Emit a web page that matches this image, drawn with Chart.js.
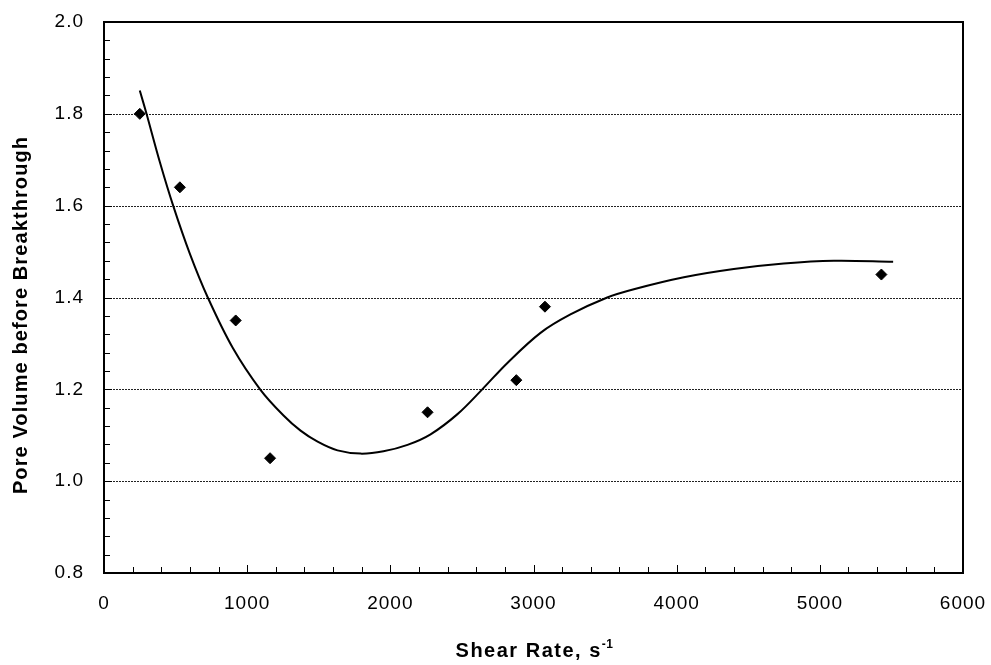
<!DOCTYPE html>
<html>
<head>
<meta charset="utf-8">
<script src="https://cdn.jsdelivr.net/npm/chart.js@4/dist/chart.umd.min.js"></script>
<style>
    html, body { margin: 0; padding: 0; background: #fff; }
    #wrap { width: 991px; height: 665px; }
</style>
</head>
<body>
<div id="wrap"><canvas id="chart" width="991" height="665"></canvas></div>
<script>
// measured points
var shearRate = [250, 530, 920, 1160, 2260, 2880, 3080, 5430];
var poreVolume = [1.80, 1.64, 1.35, 1.05, 1.15, 1.22, 1.38, 1.45];

// fitted curve
var fitX = [250, 297, 390, 483, 600, 725, 900, 1093, 1254, 1373, 1492, 1631, 1792, 1952, 2120, 2281, 2469, 2642, 2816, 3049, 3258, 3515, 3701, 4050, 4399, 4748, 5098, 5512];
var fitY = [1.851, 1.80, 1.695, 1.60, 1.495, 1.40, 1.29, 1.199, 1.143, 1.110, 1.086, 1.067, 1.060, 1.065, 1.079, 1.102, 1.146, 1.200, 1.257, 1.323, 1.363, 1.40, 1.418, 1.444, 1.462, 1.474, 1.480, 1.478];

var xTicks = [0, 1000, 2000, 3000, 4000, 5000, 6000];
var yTicks = [0.8, 1.0, 1.2, 1.4, 1.6, 1.8, 2.0];
var yGrid = [1.0, 1.2, 1.4, 1.6, 1.8];

var xTitle = "Shear Rate, s";
var xTitleSup = "-1";
var yTitle = "Pore Volume before Breakthrough";

var FONT = "'Liberation Sans', Arial, sans-serif";

function toXY(xs, ys) {
    var out = [];
    for (var i = 0; i < xs.length; i++) {
        out.push({x: xs[i], y: ys[i]});
    }
    return out;
}

// wider text, like the original rendering
var spacingPlugin = {
    id: 'spacing',
    beforeLayout: function(chart) { chart.ctx.letterSpacing = '1px'; },
    beforeDraw: function(chart) { chart.ctx.letterSpacing = '1px'; }
};

// dashed grid, inner ticks, box and axis titles
var decorPlugin = {
    id: 'decor',
    beforeDatasetsDraw: function(chart) {
        var ctx = chart.ctx;
        var a = chart.chartArea;
        var ys = chart.scales.y;
        ctx.save();
        ctx.strokeStyle = '#222';
        ctx.lineWidth = 1;
        ctx.setLineDash([2, 1]);
        yGrid.forEach(function(v) {
            var py = Math.round(ys.getPixelForValue(v)) + 0.5;
            ctx.beginPath();
            ctx.moveTo(a.left, py);
            ctx.lineTo(a.right, py);
            ctx.stroke();
        });
        ctx.restore();
    },
    afterDraw: function(chart) {
        var ctx = chart.ctx;
        var a = chart.chartArea;
        var xs = chart.scales.x;
        var ys = chart.scales.y;
        ctx.save();
        ctx.strokeStyle = '#000';
        ctx.lineWidth = 1;
        // minor ticks on x every 200, on y every 0.04
        for (var i = 0; i < xTicks.length - 1; i++) {
            for (var k = 0; k < 5; k++) {
                var v = xTicks[i] + (xTicks[i + 1] - xTicks[i]) * k / 5;
                var px = Math.round(xs.getPixelForValue(v)) + 0.5;
                var len = k === 0 ? 8 : 6;
                ctx.beginPath();
                ctx.moveTo(px, a.bottom);
                ctx.lineTo(px, a.bottom - len);
                ctx.stroke();
            }
        }
        for (var j = 0; j < yTicks.length - 1; j++) {
            for (var m = 0; m < 5; m++) {
                var w = yTicks[j] + (yTicks[j + 1] - yTicks[j]) * m / 5;
                var py = Math.round(ys.getPixelForValue(w)) + 0.5;
                var l2 = m === 0 ? 8 : 6;
                ctx.beginPath();
                ctx.moveTo(a.left, py);
                ctx.lineTo(a.left + l2, py);
                ctx.stroke();
            }
        }
        // plot box
        ctx.lineWidth = 2;
        ctx.strokeRect(a.left, a.top, a.right - a.left, a.bottom - a.top);

        // x title with superscript
        ctx.fillStyle = '#000';
        ctx.textBaseline = 'alphabetic';
        ctx.textAlign = 'left';
        ctx.letterSpacing = '1.5px';
        ctx.font = 'bold 20px ' + FONT;
        var w1 = ctx.measureText(xTitle).width;
        ctx.letterSpacing = '0.5px';
        ctx.font = 'bold 12px ' + FONT;
        var w2 = ctx.measureText(xTitleSup).width;
        var cx = (a.left + a.right) / 2 + 1;
        var sx = cx - (w1 + w2) / 2;
        ctx.letterSpacing = '1.5px';
        ctx.font = 'bold 20px ' + FONT;
        ctx.fillText(xTitle, sx, 657);
        ctx.letterSpacing = '0.5px';
        ctx.font = 'bold 12px ' + FONT;
        ctx.fillText(xTitleSup, sx + w1, 648);

        // y title
        ctx.translate(21, 315);
        ctx.rotate(-Math.PI / 2);
        ctx.letterSpacing = '1.1px';
        ctx.font = 'bold 20px ' + FONT;
        ctx.textAlign = 'center';
        ctx.textBaseline = 'middle';
        ctx.fillText(yTitle, 0, 0);
        ctx.restore();
    }
};

var chart = new Chart(document.getElementById('chart'), {
    type: 'scatter',
    data: {
        datasets: [
            {
                label: 'Measured',
                data: toXY(shearRate, poreVolume),
                pointStyle: 'rectRot',
                pointRadius: 5.5,
                pointBackgroundColor: '#000',
                pointBorderColor: '#000',
                pointBorderWidth: 1,
                showLine: false
            },
            {
                label: 'Fit',
                data: toXY(fitX, fitY),
                showLine: true,
                borderColor: '#000',
                borderWidth: 2,
                pointRadius: 0,
                tension: 0.35,
                fill: false
            }
        ]
    },
    options: {
        responsive: false,
        animation: false,
        devicePixelRatio: 1,
        layout: { padding: { top: 22, right: 28, left: 0, bottom: 0 } },
        plugins: {
            legend: { display: false },
            tooltip: { enabled: false }
        },
        scales: {
            x: {
                type: 'linear',
                min: 0,
                max: 6000,
                afterBuildTicks: function(scale) {
                    scale.ticks = xTicks.map(function(v) { return {value: v}; });
                },
                afterFit: function(scale) {
                    scale.height = 92;
                    scale.paddingLeft = 0;
                    scale.paddingRight = 0;
                },
                grid: { display: false, drawTicks: false },
                border: { display: false },
                ticks: {
                    padding: 19,
                    color: '#000',
                    maxRotation: 0,
                    font: { family: FONT, size: 19 },
                    callback: function(v) { return String(v); }
                }
            },
            y: {
                type: 'linear',
                min: 0.8,
                max: 2.0,
                afterBuildTicks: function(scale) {
                    scale.ticks = yTicks.map(function(v) { return {value: v}; });
                },
                afterFit: function(scale) {
                    scale.width = 104;
                    scale.paddingTop = 0;
                    scale.paddingBottom = 0;
                },
                grid: { display: false, drawTicks: false },
                border: { display: false },
                ticks: {
                    padding: 20,
                    color: '#000',
                    font: { family: FONT, size: 19 },
                    callback: function(v) { return Number(v).toFixed(1); }
                }
            }
        }
    },
    plugins: [spacingPlugin, decorPlugin]
});
</script>
</body>
</html>
